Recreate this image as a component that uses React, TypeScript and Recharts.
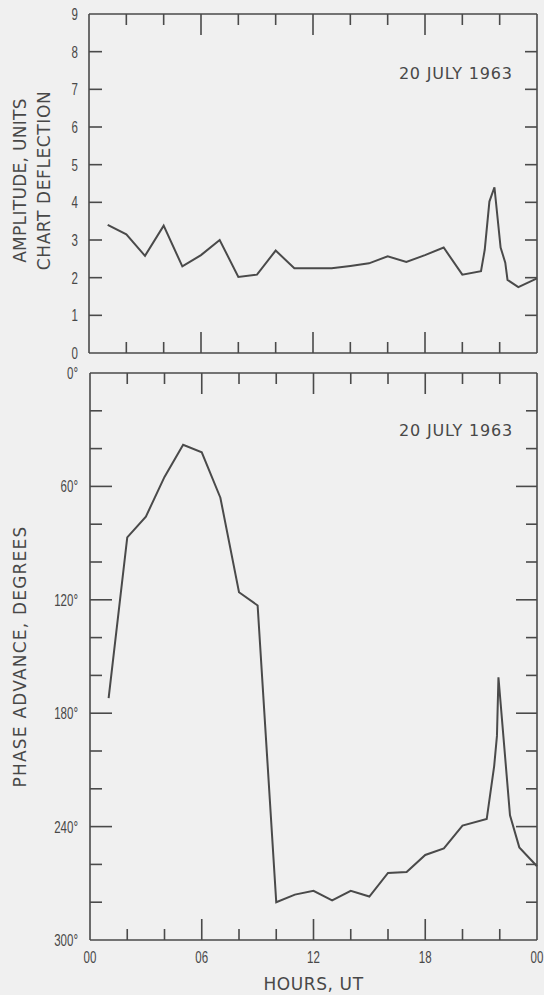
import { LineChart, Line, XAxis, YAxis, ReferenceDot } from "recharts";

// amplitude, chart deflection units (upper panel)
const ampHours = [1, 2, 3, 4, 5, 6, 7, 8, 9, 10, 11, 12, 13, 14, 15, 16, 17, 18, 19, 20, 21, 21.2, 21.45, 21.72, 22.05, 22.3, 22.42, 23, 24];
const ampValues = [3.4, 3.15, 2.58, 3.38, 2.3, 2.6, 3.0, 2.02, 2.08, 2.72, 2.25, 2.25, 2.25, 2.31, 2.38, 2.57, 2.42, 2.6, 2.8, 2.08, 2.17, 2.74, 4.02, 4.4, 2.8, 2.4, 1.94, 1.75, 1.98];

// phase advance, degrees (lower panel)
const phaseHours = [1, 2, 3, 4, 5, 6, 7, 8, 9, 10, 11, 12, 13, 14, 15, 16, 17, 18, 19, 20, 21.3, 21.7, 21.85, 21.93, 22.55, 23.05, 24];
const phaseDegrees = [172, 87, 76, 55, 38, 42, 66, 116, 123, 280, 276, 274, 279, 274, 277, 264.5, 264, 255, 251.5, 239.5, 236, 208, 192, 161, 234, 251, 261];

const hourTicks = [0, 2, 4, 6, 8, 10, 12, 14, 16, 18, 20, 22, 24];
const hourLabels: Record<number, string> = { 0: "00", 6: "06", 12: "12", 18: "18", 24: "00" };
const ampTicks = [0, 1, 2, 3, 4, 5, 6, 7, 8, 9];
const phaseTicks = [0, 20, 40, 60, 80, 100, 120, 140, 160, 180, 200, 220, 240, 260, 280, 300];

const dateNote = "20 JULY 1963";

const ampData = ampHours.map((h, i) => ({ hour: h, amp: ampValues[i] }));
const phaseData = phaseHours.map((h, i) => ({ hour: h, phase: phaseDegrees[i] }));

const INK = "#4a4a4a";
const TXT = "#484848";
const DIGITS = "'Liberation Sans', Arial, sans-serif";
const LETTERS = "'DejaVu Sans', sans-serif";

const digitText = (x: number, y: number, s: string, anchor: "start" | "middle" | "end") => (
  <text
    transform={`translate(${x},${y}) scale(0.72,1)`}
    textAnchor={anchor}
    fontFamily={DIGITS}
    fontSize={16}
    fill={TXT}
  >
    {s}
  </text>
);

// ticks on the bottom axis point up into the plot
const bottomTick = (withLabels: boolean) => (p: any) => {
  const v = p.payload.value;
  const len = v % 6 === 0 ? 21 : 11;
  return (
    <g>
      {v > 0 && v < 24 && <line x1={p.x} x2={p.x} y1={p.y} y2={p.y - len} stroke={INK} strokeWidth={1.6} />}
      {withLabels && hourLabels[v] !== undefined && digitText(p.x, p.y + 23, hourLabels[v], "middle")}
    </g>
  );
};

const topTick = (p: any) => {
  const v = p.payload.value;
  const len = v % 6 === 0 ? 21 : 11;
  if (v <= 0 || v >= 24) return <g />;
  return <line x1={p.x} x2={p.x} y1={p.y} y2={p.y + len} stroke={INK} strokeWidth={1.6} />;
};

const ampLeftTick = (p: any) => {
  const v = p.payload.value;
  return (
    <g>
      {v > 0 && v < 9 && <line x1={p.x} x2={p.x + 13} y1={p.y} y2={p.y} stroke={INK} strokeWidth={1.6} />}
      {digitText(p.x - 11, p.y + 6, String(v), "end")}
    </g>
  );
};

const ampRightTick = (p: any) => {
  const v = p.payload.value;
  if (v <= 0 || v >= 9) return <g />;
  return <line x1={p.x} x2={p.x - 12} y1={p.y} y2={p.y} stroke={INK} strokeWidth={1.6} />;
};

const phaseLeftTick = (p: any) => {
  const v = p.payload.value;
  const major = v % 60 === 0;
  return (
    <g>
      {v > 0 && v < 300 && <line x1={p.x} x2={p.x + (major ? 22 : 12)} y1={p.y} y2={p.y} stroke={INK} strokeWidth={1.6} />}
      {major && digitText(p.x - 12, p.y + 6, `${v}°`, "end")}
    </g>
  );
};

const phaseRightTick = (p: any) => {
  const v = p.payload.value;
  if (v <= 0 || v >= 300) return <g />;
  const len = v % 60 === 0 ? 21 : 11;
  return <line x1={p.x} x2={p.x - len} y1={p.y} y2={p.y} stroke={INK} strokeWidth={1.6} />;
};

const titleText = (x: number, y: number, s: string, spacing: number) => (
  <text
    transform={`translate(${x},${y}) rotate(-90)`}
    textAnchor="middle"
    dominantBaseline="central"
    fontFamily={LETTERS}
    fontSize={17}
    letterSpacing={spacing}
    fill={TXT}
  >
    {s}
  </text>
);

const ampTitle = (p: any) => {
  const vb = p.viewBox;
  const cy = vb.y + vb.height / 2 - 3;
  return (
    <g>
      {titleText(20, cy, "AMPLITUDE, UNITS", 0.3)}
      {titleText(44, cy, "CHART DEFLECTION", 0.6)}
    </g>
  );
};

const phaseTitle = (p: any) => {
  const vb = p.viewBox;
  return titleText(20, vb.y + vb.height / 2, "PHASE  ADVANCE,  DEGREES", 1.2);
};

const axisLine = { stroke: INK, strokeWidth: 1.6 };
const noteLabel = { value: dateNote, position: "center" as const, fill: TXT, fontSize: 16, letterSpacing: 0.8, fontFamily: LETTERS };

export default function App() {
  return (
    <div style={{ position: "absolute", left: 0, top: 0, width: 544, height: 995, background: "#f0f0f0" }}>
      <div style={{ position: "absolute", left: 0, top: 0 }}>
        <LineChart width={544} height={365} data={ampData} margin={{ top: 13, right: 0, bottom: 0, left: 0 }}>
          <XAxis xAxisId="b" dataKey="hour" type="number" domain={[0, 24]} ticks={hourTicks} interval={0}
            height={12} tickSize={0} tickMargin={0} tickLine={false} axisLine={axisLine} tick={bottomTick(false)} />
          <XAxis xAxisId="t" orientation="top" dataKey="hour" type="number" domain={[0, 24]} ticks={hourTicks} interval={0}
            height={1} tickSize={0} tickMargin={0} tickLine={false} axisLine={axisLine} tick={topTick} />
          <YAxis yAxisId="l" type="number" domain={[0, 9]} ticks={ampTicks} interval={0} width={89}
            tickSize={0} tickMargin={0} tickLine={false} axisLine={axisLine} tick={ampLeftTick} label={ampTitle} />
          <YAxis yAxisId="r" orientation="right" type="number" domain={[0, 9]} ticks={ampTicks} interval={0} width={7}
            tickSize={0} tickMargin={0} tickLine={false} axisLine={axisLine} tick={ampRightTick} />
          <ReferenceDot xAxisId="b" yAxisId="l" x={19.65} y={7.42} r={1} fill="none" stroke="none" label={noteLabel} />
          {/* invisible copy so the top and right axes get a series of their own */}
          <Line xAxisId="t" yAxisId="r" dataKey="amp" stroke="none" strokeWidth={0} dot={false}
            activeDot={false} legendType="none" isAnimationActive={false} />
          <Line xAxisId="b" yAxisId="l" dataKey="amp" type="linear" stroke={INK} strokeWidth={2}
            dot={false} isAnimationActive={false} />
        </LineChart>
      </div>
      <div style={{ position: "absolute", left: 0, top: 365 }}>
        <LineChart width={544} height={630} data={phaseData} margin={{ top: 7, right: 0, bottom: 0, left: 0 }}>
          <XAxis xAxisId="b" dataKey="hour" type="number" domain={[0, 24]} ticks={hourTicks} interval={0}
            height={55} tickSize={0} tickMargin={0} tickLine={false} axisLine={axisLine} tick={bottomTick(true)}
            label={{ value: "HOURS, UT", position: "insideBottom", offset: 5, fill: TXT, fontSize: 17, letterSpacing: 0.6, fontFamily: LETTERS }} />
          <XAxis xAxisId="t" orientation="top" dataKey="hour" type="number" domain={[0, 24]} ticks={hourTicks} interval={0}
            height={1} tickSize={0} tickMargin={0} tickLine={false} axisLine={axisLine} tick={topTick} />
          <YAxis yAxisId="l" type="number" reversed domain={[0, 300]} ticks={phaseTicks} interval={0} width={90}
            tickSize={0} tickMargin={0} tickLine={false} axisLine={axisLine} tick={phaseLeftTick} label={phaseTitle} />
          <YAxis yAxisId="r" orientation="right" type="number" reversed domain={[0, 300]} ticks={phaseTicks} interval={0} width={7}
            tickSize={0} tickMargin={0} tickLine={false} axisLine={axisLine} tick={phaseRightTick} />
          <ReferenceDot xAxisId="b" yAxisId="l" x={19.65} y={30.5} r={1} fill="none" stroke="none" label={noteLabel} />
          <Line xAxisId="t" yAxisId="r" dataKey="phase" stroke="none" strokeWidth={0} dot={false}
            activeDot={false} legendType="none" isAnimationActive={false} />
          <Line xAxisId="b" yAxisId="l" dataKey="phase" type="linear" stroke={INK} strokeWidth={2}
            dot={false} isAnimationActive={false} />
        </LineChart>
      </div>
    </div>
  );
}
